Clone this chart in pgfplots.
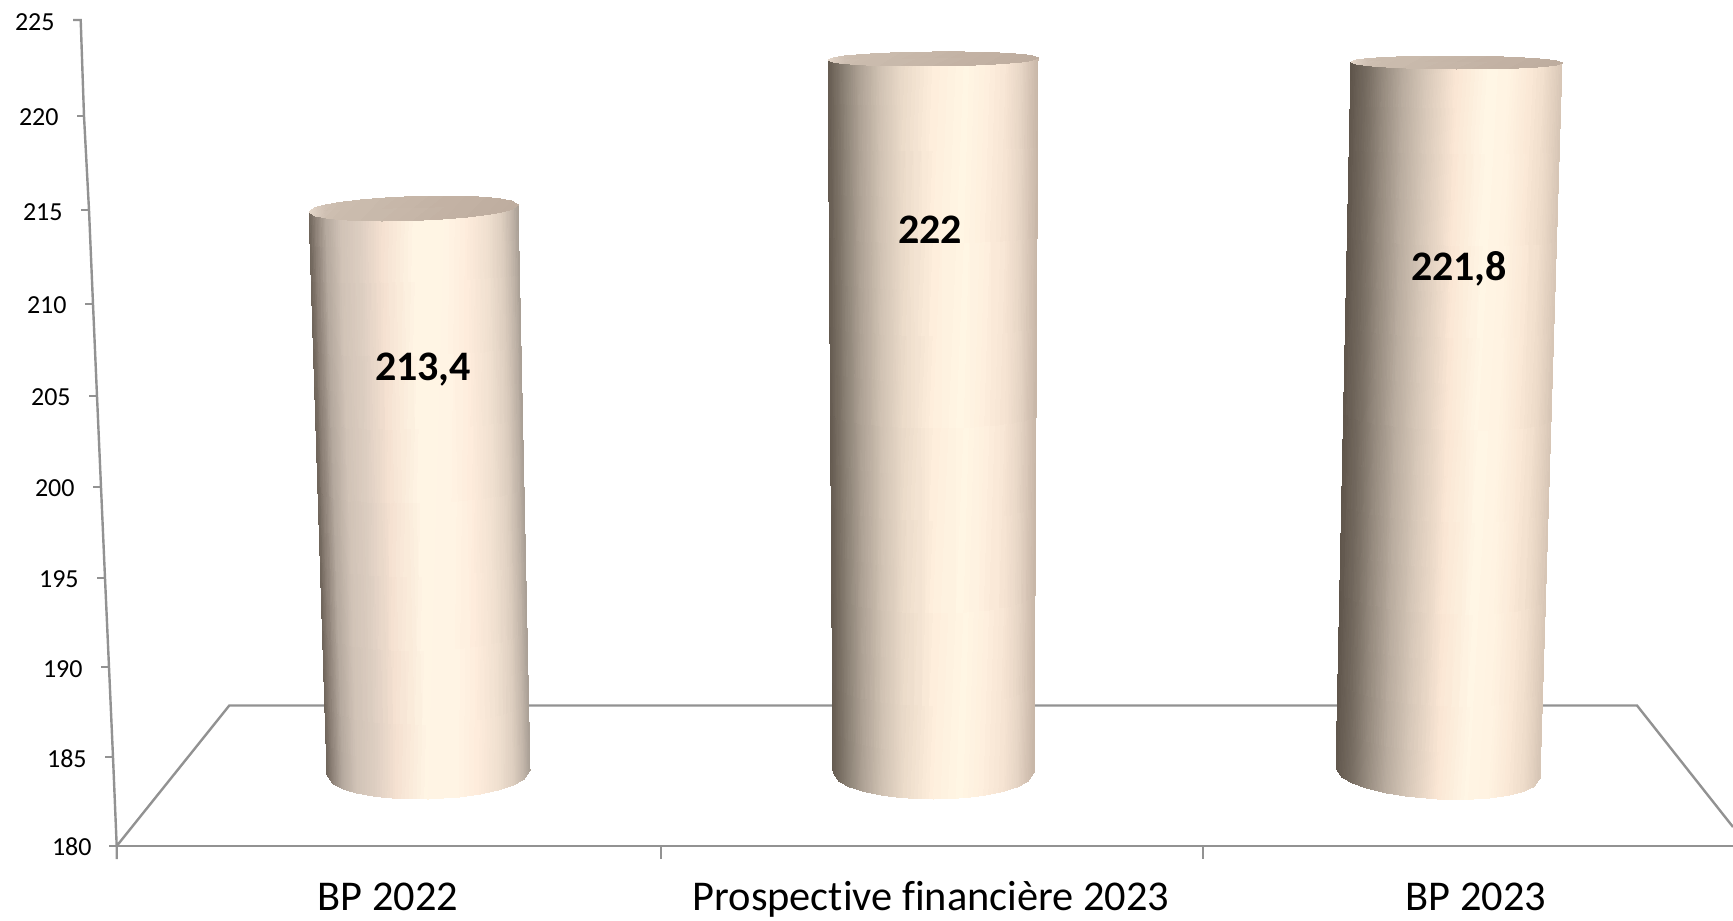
\documentclass[border=0pt]{standalone}
\usepackage{fontspec}
\setmainfont{Carlito}[Ligatures=CommonOff]
\usepackage{pgfplots}
\pgfplotsset{compat=1.18}

\definecolor{axisgray}{RGB}{146,146,146}

\begin{document}
\begin{tikzpicture}
\useasboundingbox (0,0) rectangle (866.5pt,460pt);
\begin{axis}[
    at={(0,0)}, anchor=south west,
    scale only axis, width=866.5pt, height=460pt,
    xmin=0, xmax=1733, ymin=0, ymax=920, y dir=reverse,
    hide axis, clip=true,
    every node near coord/.append style={inner sep=0pt, anchor=center},
]
  % floor and axes
  \addplot[axisgray, line width=1.2pt, line join=miter] coordinates {(116.7,846) (229.3,705.5) (1637,705.5) (1733,827)};
  \addplot[axisgray, line width=1.2pt] coordinates {(109,846) (1733,846)};
  \addplot[axisgray, line width=1.2pt] coordinates {(73,20) (80.7,20) (84,116) (89,210) (93,304) (97,396) (101,487) (105,578) (109,667) (113,757) (116.7,846) (116.7,859)};
  % ticks on the y axis
  \addplot[axisgray, line width=1.1pt] coordinates {(77,116) (84,116)};
  \addplot[axisgray, line width=1.1pt] coordinates {(81,210) (89,210)};
  \addplot[axisgray, line width=1.1pt] coordinates {(85,304) (93,304)};
  \addplot[axisgray, line width=1.1pt] coordinates {(89,396) (97,396)};
  \addplot[axisgray, line width=1.1pt] coordinates {(93,487) (101,487)};
  \addplot[axisgray, line width=1.1pt] coordinates {(97,578) (105,578)};
  \addplot[axisgray, line width=1.1pt] coordinates {(101,667) (109,667)};
  \addplot[axisgray, line width=1.1pt] coordinates {(105,757) (113,757)};
  % ticks on the x axis
  \addplot[axisgray, line width=1.1pt] coordinates {(661,846) (661,859)};
  \addplot[axisgray, line width=1.1pt] coordinates {(1203,846) (1203,859)};

  % BP 2022
  \addplot[surf, shader=interp, mesh/color input=explicit, mesh/rows=2] table[meta=c]{
    x y c
    309 212 rgb255=110,100,90
    315.3 211.8 rgb255=140,128,118
    325.7 211.4 rgb255=180,168,157
    340.4 211 rgb255=208,194,182
    361.3 210.3 rgb255=222,207,194
    382.2 209.6 rgb255=245,225,209
    413.5 208.5 rgb255=255,245,228
    444.9 207.5 rgb255=255,244,228
    465.8 206.8 rgb255=254,236,220
    486.7 206 rgb255=240,224,208
    501.3 205.6 rgb255=222,207,192
    511.7 205.2 rgb255=195,182,170
    518 205 rgb255=170,160,150
    327 775 rgb255=110,100,90
    333.1 783.9 rgb255=140,128,118
    343.2 789 rgb255=180,168,157
    357.5 793.2 rgb255=208,194,182
    377.8 796.7 rgb255=222,207,194
    398.1 798.5 rgb255=245,225,209
    428.5 799 rgb255=255,245,228
    459 797 rgb255=255,244,228
    479.3 794.2 rgb255=254,236,220
    499.6 789.7 rgb255=240,224,208
    513.8 784.8 rgb255=222,207,192
    523.9 779.2 rgb255=195,182,170
    530 770 rgb255=170,160,150
  };
  \addplot[surf, shader=interp, mesh/color input=explicit, mesh/rows=2] table[meta=c]{
    x y c
    309 212 rgb255=232,218,205
    315.3 207.7 rgb255=220,206,193
    325.7 204.9 rgb255=207,192,179
    340.4 202.4 rgb255=203,188,174
    361.3 199.9 rgb255=202,187,173
    382.2 198.2 rgb255=200,185,171
    413.5 196.5 rgb255=198,182,168
    444.9 196.1 rgb255=195,178,164
    465.8 196.4 rgb255=194,177,163
    486.7 197.4 rgb255=192,175,161
    501.3 199.1 rgb255=191,174,160
    511.7 201.1 rgb255=190,173,159
    518 205 rgb255=190,173,159
    309 212 rgb255=232,218,205
    315.3 215.9 rgb255=220,206,193
    325.7 217.9 rgb255=207,192,179
    340.4 219.6 rgb255=203,188,174
    361.3 220.7 rgb255=202,187,173
    382.2 221 rgb255=200,185,171
    413.5 220.5 rgb255=198,182,168
    444.9 218.9 rgb255=195,178,164
    465.8 217.2 rgb255=194,177,163
    486.7 214.6 rgb255=192,175,161
    501.3 212.1 rgb255=191,174,160
    511.7 209.3 rgb255=190,173,159
    518 205 rgb255=190,173,159
  };

  % Prospective financiere 2023
  \addplot[surf, shader=interp, mesh/color input=explicit, mesh/rows=2] table[meta=c]{
    x y c
    828 60 rgb255=100,90,80
    834.3 60 rgb255=115,105,94
    844.8 59.8 rgb255=140,130,118
    859.5 59.7 rgb255=173,161,148
    880.5 59.5 rgb255=208,194,179
    901.5 59.3 rgb255=233,217,200
    933 59 rgb255=254,238,220
    964.5 58.7 rgb255=255,246,228
    985.5 58.5 rgb255=254,239,222
    1006.5 58.3 rgb255=246,228,211
    1021.2 58.2 rgb255=230,213,197
    1031.7 58.1 rgb255=212,194,179
    1038 58 rgb255=200,183,168
    833 772 rgb255=100,90,80
    839 781.2 rgb255=115,105,94
    849.1 786.7 rgb255=140,130,118
    863.2 791.3 rgb255=173,161,148
    883.3 795.4 rgb255=208,194,179
    903.4 797.8 rgb255=233,217,200
    933.5 799 rgb255=254,238,220
    963.7 797.8 rgb255=255,246,228
    983.8 795.4 rgb255=254,239,222
    1003.9 791.3 rgb255=246,228,211
    1017.9 786.7 rgb255=230,213,197
    1028 781.2 rgb255=212,194,179
    1034 772 rgb255=200,183,168
  };
  \addplot[surf, shader=interp, mesh/color input=explicit, mesh/rows=2] table[meta=c]{
    x y c
    828 60 rgb255=232,218,205
    834.3 57.6 rgb255=220,206,193
    844.8 56 rgb255=207,192,179
    859.5 54.7 rgb255=203,188,174
    880.5 53.4 rgb255=202,187,173
    901.5 52.6 rgb255=200,185,171
    933 52 rgb255=198,182,168
    964.5 52 rgb255=195,178,164
    985.5 52.4 rgb255=194,177,163
    1006.5 53.3 rgb255=192,175,161
    1021.2 54.4 rgb255=191,174,160
    1031.7 55.7 rgb255=190,173,159
    1038 58 rgb255=190,173,159
    828 60 rgb255=232,218,205
    834.3 62.4 rgb255=220,206,193
    844.8 63.6 rgb255=207,192,179
    859.5 64.7 rgb255=203,188,174
    880.5 65.6 rgb255=202,187,173
    901.5 66 rgb255=200,185,171
    933 66 rgb255=198,182,168
    964.5 65.4 rgb255=195,178,164
    985.5 64.6 rgb255=194,177,163
    1006.5 63.3 rgb255=192,175,161
    1021.2 62 rgb255=191,174,160
    1031.7 60.5 rgb255=190,173,159
    1038 58 rgb255=190,173,159
  };

  % BP 2023
  \addplot[surf, shader=interp, mesh/color input=explicit, mesh/rows=2] table[meta=c]{
    x y c
    1351 62 rgb255=95,85,75
    1357.3 62 rgb255=104,94,84
    1367.9 62.1 rgb255=119,109,98
    1382.7 62.2 rgb255=148,137,125
    1403.8 62.3 rgb255=185,172,159
    1424.9 62.4 rgb255=213,198,183
    1456.5 62.5 rgb255=250,230,212
    1488.2 62.7 rgb255=255,246,229
    1509.3 62.8 rgb255=255,243,226
    1530.4 62.9 rgb255=250,232,214
    1545.1 62.9 rgb255=239,221,203
    1555.7 63 rgb255=225,207,190
    1562 63 rgb255=215,198,182
    1336 768 rgb255=95,85,75
    1342.1 777.2 rgb255=104,94,84
    1352.3 782.9 rgb255=119,109,98
    1366.6 788.1 rgb255=148,137,125
    1387 793 rgb255=185,172,159
    1407.4 796.3 rgb255=213,198,183
    1438 799 rgb255=250,230,212
    1468.6 799.3 rgb255=255,246,229
    1489 798 rgb255=255,243,226
    1509.4 795.1 rgb255=250,232,214
    1523.7 791.3 rgb255=239,221,203
    1533.9 786.6 rgb255=225,207,190
    1540 778 rgb255=215,198,182
  };
  \addplot[surf, shader=interp, mesh/color input=explicit, mesh/rows=2] table[meta=c]{
    x y c
    1351 62 rgb255=232,218,205
    1357.3 59.8 rgb255=220,206,193
    1367.9 58.6 rgb255=207,192,179
    1382.7 57.6 rgb255=203,188,174
    1403.8 56.7 rgb255=202,187,173
    1424.9 56.2 rgb255=200,185,171
    1456.5 56 rgb255=198,182,168
    1488.2 56.5 rgb255=195,178,164
    1509.3 57.2 rgb255=194,177,163
    1530.4 58.3 rgb255=192,175,161
    1545.1 59.4 rgb255=191,174,160
    1555.7 60.8 rgb255=190,173,159
    1562 63 rgb255=190,173,159
    1351 62 rgb255=232,218,205
    1357.3 64.2 rgb255=220,206,193
    1367.9 65.6 rgb255=207,192,179
    1382.7 66.8 rgb255=203,188,174
    1403.8 67.9 rgb255=202,187,173
    1424.9 68.6 rgb255=200,185,171
    1456.5 69 rgb255=198,182,168
    1488.2 68.9 rgb255=195,178,164
    1509.3 68.4 rgb255=194,177,163
    1530.4 67.5 rgb255=192,175,161
    1545.1 66.4 rgb255=191,174,160
    1555.7 65.2 rgb255=190,173,159
    1562 63 rgb255=190,173,159
  };

  % y tick labels
  \addplot[draw=none, mark=none, point meta=explicit symbolic, nodes near coords,
    every node near coord/.append style={anchor=east, font=\fontsize{13pt}{15pt}\selectfont}]
    table[meta=t]{
    x y t
    55 22 225
    59 117 220
    63 212 215
    67 305 210
    71 397 205
    75 488 200
    79 579 195
    83 669 190
    87 759 185
    92 847 180
  };
  % category labels
  \addplot[draw=none, mark=none, point meta=explicit symbolic, nodes near coords,
    every node near coord/.append style={anchor=base, font=\fontsize{21.2pt}{24pt}\selectfont}]
    table[meta=t]{
    x y t
    388 910.5 {BP 2022}
    931 910.5 {Prospective financière 2023}
    1476 910.5 {BP 2023}
  };
  % values
  \addplot[draw=none, mark=none, point meta=explicit symbolic, nodes near coords,
    every node near coord/.append style={anchor=base, font=\fontsize{21pt}{24pt}\selectfont\bfseries}]
    table[meta=t]{
    x y t
    423 380 213,4
    930 243 222
    1459 280 221,8
  };
\end{axis}
\end{tikzpicture}
\end{document}
